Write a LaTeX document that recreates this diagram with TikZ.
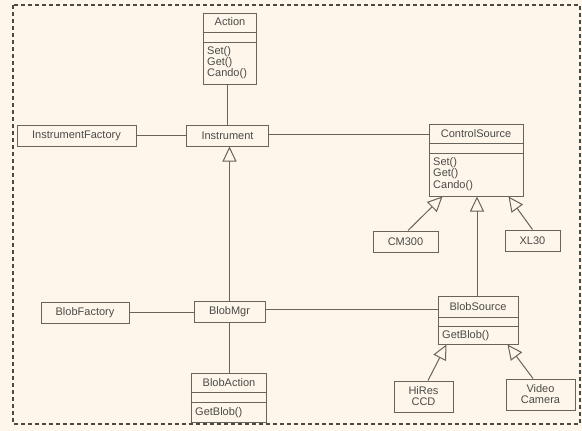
\documentclass[tikz,border=0pt]{standalone}
\usepackage{fontspec}
\setmainfont{Liberation Sans}
\usetikzlibrary{arrows.meta,calc}
\definecolor{bg}{HTML}{FEF6EA}
\definecolor{ln}{HTML}{66645C}
\definecolor{tx}{HTML}{4A4A48}
\definecolor{brd}{HTML}{4A4A44}
\begin{document}
\begin{tikzpicture}[x=1pt,y=-1pt,
  box/.style={draw=ln, line width=1pt, fill=bg, inner sep=0pt, font=\fontsize{11}{12}\selectfont, text=tx},
  lbl/.style={inner sep=0pt, font=\fontsize{11}{12}\selectfont, text=tx, text height=8pt, text depth=2pt},
  conn/.style={draw=ln, line width=1pt},
  inh/.style={conn, -{Triangle[length=15pt,width=14pt,fill=bg]}},
  sep/.style={draw=ln, line width=1pt}]
\fill[bg] (0,0) rectangle (582,431);
\useasboundingbox (0,0) rectangle (582,431);
\draw[brd, line width=1.6pt, dash pattern=on 4pt off 3pt] (13,5) rectangle (580,424);

% Action
\node[box, minimum width=53pt, minimum height=71pt] (action) at (229.5,48.5) {};
\node[lbl] (actiont) at (230,23) {Action};
\draw[sep] ($(action.north west)+(0,20)$) -- ($(action.north east)+(0,20)$);
\draw[sep] ($(action.north west)+(0,30)$) -- ($(action.north east)+(0,30)$);
\node[lbl, anchor=west] (actionm1) at (207,51) {Set()};
\node[lbl, anchor=west] (actionm2) at (207,62) {Get()};
\node[lbl, anchor=west] (actionm3) at (207,73) {Cando()};

% Instrument row
\node[box, minimum width=119pt, minimum height=21pt] (ifac) at (76.5,135.5) {InstrumentFactory};
\node[box, minimum width=82pt, minimum height=21pt] (instr) at (227.5,135.5) {Instrument};

% ControlSource
\node[box, minimum width=94pt, minimum height=72pt] (cs) at (476,160) {};
\node[lbl] (cst) at (476,134) {ControlSource};
\draw[sep] ($(cs.north west)+(0,20)$) -- ($(cs.north east)+(0,20)$);
\draw[sep] ($(cs.north west)+(0,30)$) -- ($(cs.north east)+(0,30)$);
\node[lbl, anchor=west] (csm1) at (433,162) {Set()};
\node[lbl, anchor=west] (csm2) at (433,173) {Get()};
\node[lbl, anchor=west] (csm3) at (433,185) {Cando()};

\node[box, minimum width=65pt, minimum height=21pt] (cm) at (405.5,241.5) {CM300};
\node[box, minimum width=55pt, minimum height=21pt] (xl) at (532.5,240.5) {XL30};

% Blob row
\node[box, minimum width=88pt, minimum height=21pt] (bfac) at (85,312.5) {BlobFactory};
\node[box, minimum width=71pt, minimum height=21pt] (bmgr) at (229.5,311.5) {BlobMgr};

% BlobAction
\node[box, minimum width=75pt, minimum height=49pt] (ba) at (228.5,397.5) {};
\node[lbl] (bat) at (229,383) {BlobAction};
\draw[sep] ($(ba.north west)+(0,20)$) -- ($(ba.north east)+(0,20)$);
\draw[sep] ($(ba.north west)+(0,30)$) -- ($(ba.north east)+(0,30)$);
\node[lbl, anchor=west] (bam1) at (195,412) {GetBlob()};

% BlobSource
\node[box, minimum width=80pt, minimum height=48pt] (bs) at (478,320) {};
\node[lbl] (bst) at (478,307) {BlobSource};
\draw[sep] ($(bs.north west)+(0,22)$) -- ($(bs.north west)+(80,22)$);
\draw[sep] ($(bs.north west)+(0,31)$) -- ($(bs.north west)+(80,31)$);
\node[lbl, anchor=west] (bsm1) at (442,335) {GetBlob()};

\node[box, minimum width=59pt, minimum height=31pt, align=center, font=\fontsize{11}{11}\selectfont] (hires) at (423.5,396.5) {HiRes\\CCD};
\node[box, minimum width=69pt, minimum height=31pt, align=center, font=\fontsize{11}{11}\selectfont] (video) at (540.5,394.5) {Video\\Camera};

% connectors
\draw[conn] (ifac.east) -- (instr.west);
\draw[conn] (instr.north) -- (instr.north |- action.south);
\draw[conn] ($(instr.east)+(0,-1)$) -- ($(instr.east -| cs.west)+(0,-1)$);
\draw[inh] (bmgr.north) -- (bmgr.north |- instr.south);
\draw[conn] (bfac.east) -- (bfac.east -| bmgr.west);
\draw[conn] (bmgr.south) -- (bmgr.south |- ba.north);
\draw[conn] ($(bmgr.east)+(0,-2)$) -- ($(bmgr.east -| bs.west)+(0,-2)$);
\draw[inh] ($(bs.north)+(-1,0)$) -- ($(bs.north |- cs.south)+(-1,0)$);
\draw[inh] ($(cm.north)+(2.5,0)$) -- ($(cs.south west)+(14,0)$);
\draw[inh] (xl.north) -- ($(cs.south east)+(-15,0)$);
\draw[inh] ($(hires.north)+(4.5,0)$) -- ($(bs.south west)+(9,0)$);
\draw[inh] ($(video.north)+(-7.5,0)$) -- ($(bs.south east)+(-11,0)$);
\end{tikzpicture}
\end{document}
